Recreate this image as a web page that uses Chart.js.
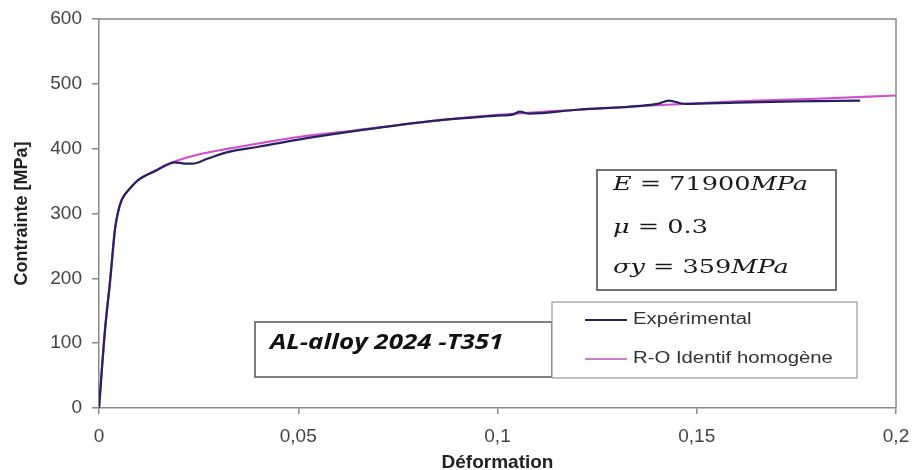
<!DOCTYPE html>
<html><head><meta charset="utf-8">
<script src="https://cdn.jsdelivr.net/npm/chart.js@4.4.1/dist/chart.umd.min.js"></script>
<style>html,body{margin:0;padding:0;background:#fff}#wrap{width:912px;height:470px;position:relative}</style>
</head><body><div id="wrap"><canvas id="c" width="912" height="470"></canvas></div>
<script>
const strainExp = [0, 0.0015, 0.0028, 0.004, 0.0047, 0.0057, 0.0074, 0.0099, 0.014, 0.019, 0.0215, 0.0235, 0.027, 0.0325, 0.04, 0.05, 0.064, 0.0856, 0.1, 0.104, 0.1056, 0.108, 0.12, 0.1358, 0.14, 0.143, 0.147, 0.16, 0.175, 0.191];
const stressExp = [0, 120, 197, 275, 300, 321, 336, 352, 365, 379, 377, 377, 384, 395, 403, 414, 427, 444, 451, 453, 457, 454, 460, 466, 469, 474, 469, 471, 473, 474];
const strainRO = [0, 0.0015, 0.0028, 0.004, 0.0047, 0.0057, 0.0074, 0.0099, 0.014, 0.019, 0.025, 0.0325, 0.04, 0.05, 0.064, 0.08, 0.1, 0.12, 0.14, 0.16, 0.18, 0.2];
const stressRO = [0, 120, 197, 275, 300, 321, 336, 352, 366, 380, 391, 400, 408, 418, 428, 440, 452, 460, 467, 473, 477, 482];
const xTicks = [0, 0.05, 0.1, 0.15, 0.2];
const xTickLabels = ["0", "0,05", "0,1", "0,15", "0,2"];
const yTicks = [0, 100, 200, 300, 400, 500, 600];
const seriesNames = ["Expérimental", "R-O Identif homogène"];
// parameter lines: [text, italic?] segments
const paramLines = [
  [["E", true], [" = ", false], ["71900", false], ["MPa", true]],
  [["μ", true], [" = ", false], ["0.3", false]],
  [["σy", true], [" = ", false], ["359", false], ["MPa", true]]
];
const alloyLabel = "AL-alloy 2024 -T351";

const colExp = '#29215f', colRO = '#cf50cf';

function stretchText(ctx, text, x, y, sx) {
  ctx.save(); ctx.translate(x, y); ctx.scale(sx, 1); ctx.fillText(text, 0, 0); ctx.restore();
  return ctx.measureText(text).width * sx;
}

const extras = {
  id: 'extras',
  afterDraw(chart) {
    const ctx = chart.ctx, a = chart.chartArea;
    ctx.save();
    ctx.strokeStyle = '#8a8a8a'; ctx.lineWidth = 1.5;
    ctx.beginPath(); ctx.moveTo(a.left, a.top); ctx.lineTo(a.right, a.top); ctx.lineTo(a.right, a.bottom); ctx.stroke();
    // parameter box
    ctx.fillStyle = '#fff'; ctx.strokeStyle = '#444'; ctx.lineWidth = 1.5;
    ctx.fillRect(597, 170, 239, 120); ctx.strokeRect(597, 170, 239, 120);
    ctx.fillStyle = '#1a1a1a'; ctx.textBaseline = 'middle'; ctx.textAlign = 'left';
    const ys = [185, 228, 268];
    paramLines.forEach((segs, li) => {
      let x = 613;
      segs.forEach(([t, it]) => {
        ctx.font = (it ? 'italic ' : '') + '18px "DejaVu Serif"';
        x += stretchText(ctx, t, x, ys[li], 1.42);
      });
    });
    // alloy box
    ctx.fillStyle = '#fff'; ctx.strokeStyle = '#555'; ctx.lineWidth = 1.5;
    ctx.fillRect(255, 322, 297, 55); ctx.strokeRect(255, 322, 297, 55);
    ctx.fillStyle = '#111'; ctx.font = 'italic bold 22px "Open Sans"';
    stretchText(ctx, alloyLabel, 270, 343, 1.18);
    // legend box
    ctx.fillStyle = '#fff'; ctx.strokeStyle = '#999'; ctx.lineWidth = 1.2;
    ctx.fillRect(552, 302, 305, 76); ctx.strokeRect(552, 302, 305, 76);
    const ds = chart.data.datasets;
    [320, 359].forEach((y, i) => {
      ctx.strokeStyle = i === 0 ? ds[i].borderColor : '#c77fc7'; ctx.lineWidth = 2;
      ctx.beginPath(); ctx.moveTo(585, y); ctx.lineTo(627, y); ctx.stroke();
      ctx.fillStyle = '#333'; ctx.font = '16px "Liberation Sans"';
      stretchText(ctx, ds[i].label, 633, y, 1.27);
    });
    ctx.restore();
  }
};

new Chart(document.getElementById('c'), {
  type: 'line',
  data: {
    datasets: [
      { label: seriesNames[0], data: strainExp.map((x, i) => ({x, y: stressExp[i]})), borderColor: colExp, borderWidth: 2.2, pointRadius: 0, cubicInterpolationMode: 'monotone', fill: false },
      { label: seriesNames[1], data: strainRO.map((x, i) => ({x, y: stressRO[i]})), borderColor: colRO, borderWidth: 2.2, pointRadius: 0, cubicInterpolationMode: 'monotone', fill: false }
    ]
  },
  options: {
    responsive: false, animation: false, devicePixelRatio: 1,
    layout: { padding: { top: 19, right: 16, left: 0, bottom: 0 } },
    plugins: { legend: { display: false }, tooltip: { enabled: false } },
    scales: {
      x: {
        type: 'linear', min: 0, max: 0.2,
        afterBuildTicks(s) { s.ticks = xTicks.map(v => ({value: v})); },
        afterFit(s) { s.height = 62; s.paddingRight = 0; s.paddingLeft = 0; },
        ticks: { color: '#444', font: { family: 'Liberation Sans', size: 19 }, padding: 11, maxRotation: 0,
          callback: (v) => { const i = xTicks.indexOf(v); return i >= 0 ? xTickLabels[i] : ''; } },
        grid: { drawOnChartArea: false, tickLength: 6, color: '#8a8a8a', lineWidth: 1.5 },
        border: { color: '#8a8a8a', width: 1.5 },
        title: { display: true, text: 'Déformation', color: '#222', font: { family: 'Liberation Sans', size: 19, weight: 'bold' }, padding: { top: 0, bottom: -4 } }
      },
      y: {
        type: 'linear', min: 0, max: 600,
        afterBuildTicks(s) { s.ticks = yTicks.map(v => ({value: v})); },
        afterFit(s) { s.width = 99; s.paddingTop = 0; s.paddingBottom = 0; },
        ticks: { color: '#444', font: { family: 'Liberation Sans', size: 19 }, padding: 10 },
        grid: { drawOnChartArea: false, tickLength: 7, color: '#8a8a8a', lineWidth: 1.5 },
        border: { color: '#8a8a8a', width: 1.5 },
        title: { display: true, text: 'Contrainte [MPa]', color: '#222', font: { family: 'Liberation Sans', size: 18, weight: 'bold' }, padding: { top: 11, bottom: 4 } }
      }
    }
  },
  plugins: [extras]
});
</script></body></html>
